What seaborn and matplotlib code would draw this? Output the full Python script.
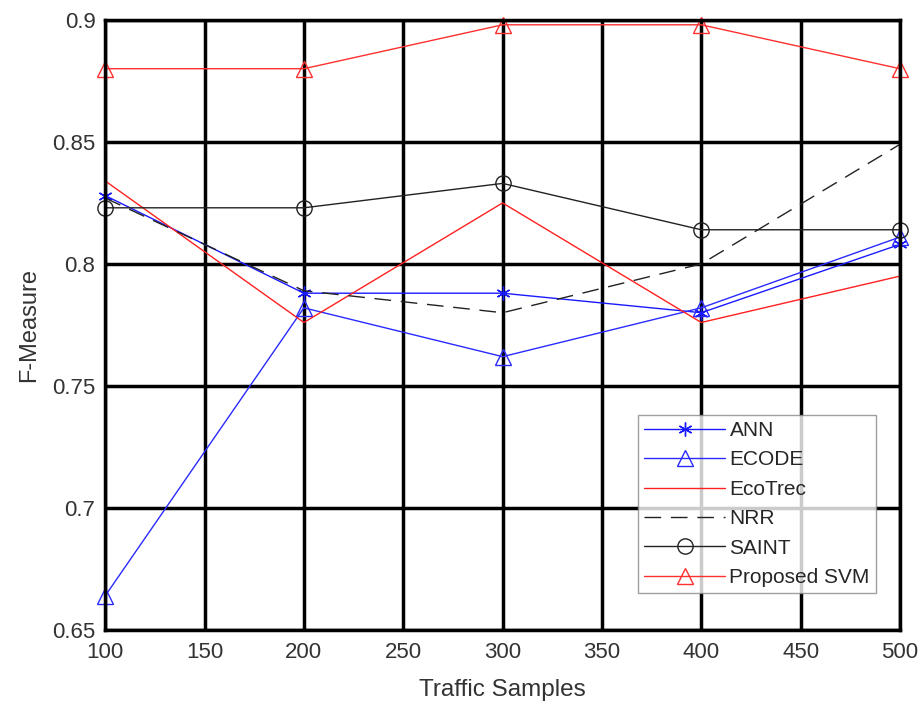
import matplotlib
matplotlib.use("Agg")
import matplotlib.pyplot as plt
import seaborn as sns
import pandas as pd

samples = [100, 200, 300, 400, 500]
ann = [0.828, 0.788, 0.788, 0.780, 0.808]
ecode = [0.664, 0.782, 0.762, 0.782, 0.811]
ecotrec = [0.834, 0.776, 0.825, 0.776, 0.795]
nrr = [0.827, 0.789, 0.780, 0.800, 0.849]
saint = [0.823, 0.823, 0.833, 0.814, 0.814]
svm = [0.880, 0.880, 0.898, 0.898, 0.880]

series_names = ["ANN", "ECODE", "EcoTrec", "NRR", "SAINT", "Proposed SVM"]
series_vals = [ann, ecode, ecotrec, nrr, saint, svm]
xticks = [100, 150, 200, 250, 300, 350, 400, 450, 500]
yticks = [0.65, 0.7, 0.75, 0.8, 0.85, 0.9]
ytick_labels = ["0.65", "0.7", "0.75", "0.8", "0.85", "0.9"]

sns.set_style("white")
plt.rcParams['font.family'] = ['Liberation Sans', 'DejaVu Sans']

fig = plt.figure(figsize=(9.23, 7.11), dpi=100)
ax = fig.add_axes([0.114, 0.114, 0.861, 0.858])

asterisk = (6, 2, 0)
styles = [
    dict(color="#1a1aff", marker=asterisk, linestyle="-", mfc="#1a1aff", ms=10),
    dict(color="#2a2aff", marker="^", linestyle="-", mfc="none", ms=11),
    dict(color="#ff2020", marker=None, linestyle="-", mfc="none", ms=0),
    dict(color="#222222", marker=None, linestyle=(0, (12, 7)), mfc="none", ms=0),
    dict(color="#222222", marker="o", linestyle="-", mfc="none", ms=11),
    dict(color="#ff3030", marker="^", linestyle="-", mfc="none", ms=11),
]

for name, vals, st in zip(series_names, series_vals, styles):
    df = pd.DataFrame({"x": samples, "y": vals})
    kw = dict(color=st["color"], linewidth=1.0, label=name, ax=ax,
              linestyle=st["linestyle"])
    if st["marker"]:
        kw.update(marker=st["marker"], markersize=st["ms"],
                  markerfacecolor=st["mfc"], markeredgecolor=st["color"],
                  markeredgewidth=1.0)
    sns.lineplot(data=df, x="x", y="y", **kw)

for ln in ax.lines:
    ln.set_clip_on(False)

ax.set_xlim(100, 500)
ax.set_ylim(0.65, 0.9)
ax.set_xticks(xticks)
ax.set_yticks(yticks)
ax.set_yticklabels(ytick_labels)
ax.grid(True, color="black", linewidth=2.5)
ax.set_axisbelow(True)
for s in ax.spines.values():
    s.set_color("black")
    s.set_linewidth(2.5)
ax.tick_params(labelsize=16, colors="#333333", length=0)
ax.tick_params(axis="x", pad=9)
ax.tick_params(axis="y", pad=7)
ax.set_xlabel("Traffic Samples", fontsize=17.5, color="#333333", labelpad=11)
ax.set_ylabel("F-Measure", fontsize=17, color="#333333", labelpad=9)

leg = ax.legend(loc="lower right", bbox_to_anchor=(0.97, 0.06), fontsize=15,
                frameon=True, fancybox=False, edgecolor="#888888",
                handlelength=3.9, labelspacing=0.5, borderpad=0.3,
                handletextpad=0.2, borderaxespad=0.0)
leg.get_frame().set_linewidth(1.0)

fig.savefig("out.png", dpi=100)
